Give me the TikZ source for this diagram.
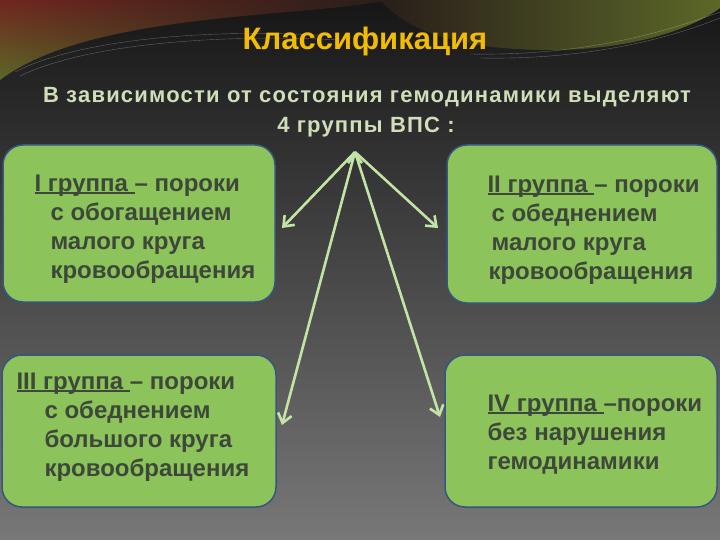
\documentclass[tikz,border=0pt]{standalone}
\usepackage{fontspec}
\setmainfont{Liberation Sans}
\usetikzlibrary{arrows.meta,shadings}
\definecolor{bgtop}{RGB}{22,22,22}
\definecolor{bgbot}{RGB}{120,120,120}
\definecolor{swred}{RGB}{112,38,30}
\definecolor{swolive}{RGB}{92,104,40}
\definecolor{swdark}{RGB}{40,30,26}
\definecolor{boxgreen}{RGB}{140,195,90}
\definecolor{boxline}{RGB}{55,85,130}
\definecolor{textgrey}{RGB}{62,72,58}
\definecolor{arrgreen}{RGB}{195,228,165}
\definecolor{titleyel}{RGB}{242,188,5}
\definecolor{subtext}{RGB}{208,222,185}
\newcommand{\grp}[1]{\setbox0\hbox{#1}\rlap{\rule[-3pt]{\wd0}{1.6pt}}\box0}

\begin{document}
\begin{tikzpicture}[x=1pt,y=-1pt,>={Straight Barb[length=9pt,width=14pt]},semithick]
  \tikzstyle{box}=[draw=boxline,line width=1.5pt,fill=boxgreen,rounded corners=20pt]
  \tikzstyle{grptext}=[anchor=north west,inner sep=0pt,align=left,text=textgrey,font=\bfseries\fontsize{24}{29}\selectfont]
  \tikzstyle{subline}=[anchor=base,inner sep=0pt,text=subtext,font=\bfseries\fontsize{22}{26}\selectfont\addfontfeature{LetterSpace=5.5}]

  \useasboundingbox (0,0) rectangle (720,540);
  \shade[top color=bgtop,bottom color=bgbot] (0,0) rectangle (720,540);
  \shade[upper left=swred,upper right=swdark,lower left=swolive,lower right=swdark]
    (0,0) -- (390,0) .. controls (300,18) and (90,12) .. (0,80) -- cycle;
  \shade[left color=swdark,middle color=swred,right color=swolive] (380,0)
    .. controls (410,35) and (470,50) .. (550,50)
    .. controls (630,50) and (690,30) .. (720,8) -- (720,0) -- cycle;
  \draw[white,opacity=.3,thin] (15,72) .. controls (80,38) and (220,28) .. (330,36);
  \draw[white,opacity=.3,thin] (20,76) .. controls (90,42) and (230,34) .. (340,40);
  \draw[white,opacity=.3,thin] (470,54) .. controls (580,56) and (660,34) .. (720,12);
  \draw[white,opacity=.3,thin] (480,58) .. controls (590,60) and (670,38) .. (720,18);

  \node[anchor=base,inner sep=0pt,text=titleyel,font=\bfseries\fontsize{31}{31}\selectfont]
    (title) at (365,50) {Классификация};
  \node[subline] (sub1) at (367,103) {В зависимости от состояния гемодинамики выделяют};
  \node[subline] (sub2) at (366,133) {4 группы ВПС :};

  \node[box,minimum width=272pt,minimum height=157pt] (b1) at (139,223.5) {};
  \node[box,minimum width=270pt,minimum height=158pt] (b2) at (582,224) {};
  \node[box,minimum width=274pt,minimum height=152pt] (b3) at (139,431) {};
  \node[box,minimum width=272pt,minimum height=152pt] (b4) at (581,431) {};

  \node[grptext] (t1) at ([xshift=32pt,yshift=-30pt]b1.north west)
    {\grp{I группа }– пороки\\ \hspace*{16pt}с обогащением\\ \hspace*{16pt}малого круга\\ \hspace*{16pt}кровообращения};
  \node[grptext] (t2) at ([xshift=41pt,yshift=-31pt]b2.north west)
    {\grp{II группа }– пороки\\ \hspace*{4pt}с обеднением\\ \hspace*{4pt}малого круга\\ \hspace*{1pt}кровообращения};
  \node[grptext] (t3) at ([xshift=15pt,yshift=-18pt]b3.north west)
    {\grp{III группа }– пороки\\ \hspace*{28pt}с обеднением\\ \hspace*{28pt}большого круга\\ \hspace*{28pt}кровообращения};
  \node[grptext] (t4) at ([xshift=43pt,yshift=-40pt]b4.north west)
    {\grp{IV группа }–пороки\\ без нарушения\\ гемодинамики};

  \coordinate (src) at (355,152);
  \coordinate (e1) at (282,228);
  \coordinate (e2) at (438,228);
  \coordinate (e3) at (282,425);
  \coordinate (e4) at (440,417);
  \path[->,draw=arrgreen,line width=2.6pt] (src) edge (e1)
                                                edge (e2)
                                                edge (e3)
                                                edge (e4);
\end{tikzpicture}
\end{document}
